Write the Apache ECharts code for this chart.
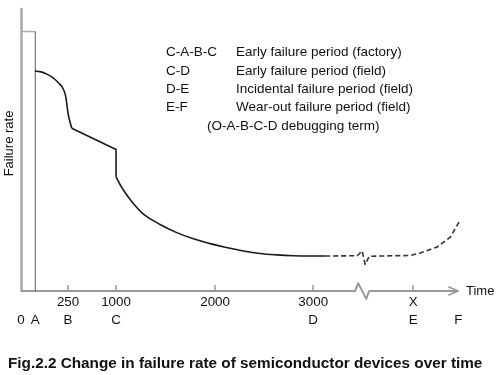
<!DOCTYPE html>
<html><head><meta charset="utf-8">
<script src="https://cdn.jsdelivr.net/npm/echarts@6/dist/echarts.min.js"></script>
<style>html,body{margin:0;padding:0;background:#fff}#c{width:504px;height:375px}</style>
</head><body><div id="c"></div>
<script>
// x: schematic time position, y: failure rate (arbitrary units)
const curveShoulder = [[147,78.0],[210,77.7],[271,76.9],[320,76.0],[358,75.0],[400,73.6],[428,72.6],[450,71.2],[463,70.0],[474,68.3],[481,66.6],[498,62.4],[534,57.7]];
const curveStep = [[534,57.7],[1000,50.2],[1000,40.5]];
const curveDecay = [[1000,40.5],[1077,35.8],[1182,31.0],[1287,27.3],[1463,23.6],[1639,20.7],[1814,18.5],
  [1989,16.8],[2165,15.4],[2340,14.2],[2516,13.3],[2692,12.8],[2866,12.5],[3042,12.4],[3200,12.4]];
const curveDashed = [[3200,12.4],[3537,12.5],[3589,14.2],[3621,9.4],[3663,12.3],[3779,12.4],[4095,12.6],
  [4200,13.5],[4379,15.6],[4516,19.1],[4621,25.2]];
const frameTop = [[0,92],[150,92]];
const frameSide = [[150,92],[150,0]];
const axisPath = [[0,0],[3516,0],[3547,2.8],[3632,-2.8],[3663,0],[4600,0]];
const arrowHead = [[4495,1.5],[4600,0],[4495,-1.5]];
const tickValues = [495,1000,2042,3074,4126];
const tickLabels = ['250','1000','2000','3000','X'];
const letterValues = [0,150,495,1000,3074,4126,4600];
const letterLabels = ['0','A','B','C','D','E','F'];
const legendKeys = ['C-A-B-C','C-D','D-E','E-F'];
const legendTexts = ['Early failure period (factory)','Early failure period (field)','Incidental failure period (field)','Wear-out failure period (field)'];
const noteText = '(O-A-B-C-D debugging term)';
const yName = 'Failure rate';
const xName = 'Time';
const titleText = 'Fig.2.2 Change in failure rate of semiconductor devices over time';

const FONT = '"Liberation Sans", Arial, sans-serif';
const chart = echarts.init(document.getElementById('c'), null, {renderer:'canvas'});
function line(data, color, width, type, smooth){
  return {type:'line', data, symbol:'none', showSymbol:false, clip:false, animation:false, silent:true,
    smooth: smooth||false,
    lineStyle:{color, width, type:type||'solid', cap:'butt', join:'round'}};
}
const graphics = [];
legendKeys.forEach((k,i)=>{
  const y = 52.5 + i*18.4;
  graphics.push({type:'text', style:{x:166, y, text:k, font:'13.5px '+FONT, fill:'#111', verticalAlign:'middle'}});
  graphics.push({type:'text', style:{x:236, y, text:legendTexts[i], font:'13.5px '+FONT, fill:'#111', verticalAlign:'middle'}});
});
graphics.push({type:'text', style:{x:207, y:126, text:noteText, font:'13.5px '+FONT, fill:'#111', verticalAlign:'middle'}});
graphics.push({type:'text', style:{x:466, y:291, text:xName, font:'13px '+FONT, fill:'#111', verticalAlign:'middle'}});
graphics.push({type:'text', style:{x:8, y:364, text:titleText, font:'bold 15.3px '+FONT, fill:'#111', verticalAlign:'middle'}});
graphics.push({type:'text', x:9.5, y:143.5, rotation:Math.PI/2, style:{x:0, y:0, text:yName, font:'13px '+FONT, fill:'#111', align:'center', verticalAlign:'middle'}});

chart.setOption({
  animation:false,
  grid:{left:21, right:41, top:9, bottom:84},
  xAxis:[{type:'value', min:0, max:4650, splitLine:{show:false},
      axisLine:{show:false},
      axisTick:{show:true, inside:true, length:6, customValues:tickValues, lineStyle:{color:'#999', width:1.5}},
      axisLabel:{show:true, customValues:tickValues, margin:5, color:'#111', fontSize:13.4, fontFamily:FONT,
        formatter:v=>tickLabels[tickValues.indexOf(v)]}},
    {type:'value', min:0, max:4650, position:'bottom', offset:18, splitLine:{show:false},
      axisLine:{show:false}, axisTick:{show:false},
      axisLabel:{show:true, customValues:letterValues, margin:5, color:'#111', fontSize:13.4, fontFamily:FONT,
        formatter:v=>letterLabels[letterValues.indexOf(v)]}}],
  yAxis:{type:'value', min:0, max:100, splitLine:{show:false}, axisTick:{show:false}, axisLabel:{show:false},
    axisLine:{show:true, lineStyle:{color:'#aaa', width:2.5}}},
  series:[
    line(axisPath,'#999',2),
    line(arrowHead,'#999',1.5),
    line(frameTop,'#aaa',1.5),
    line(frameSide,'#555',1),
    line(curveShoulder,'#1a1a1a',1.6,'solid',0.3),
    line(curveStep,'#1a1a1a',1.6),
    line(curveDecay,'#1a1a1a',1.6,'solid',0.4),
    line(curveDashed,'#333',1.6,[5,3])
  ],
  graphic:graphics
});
</script></body></html>
